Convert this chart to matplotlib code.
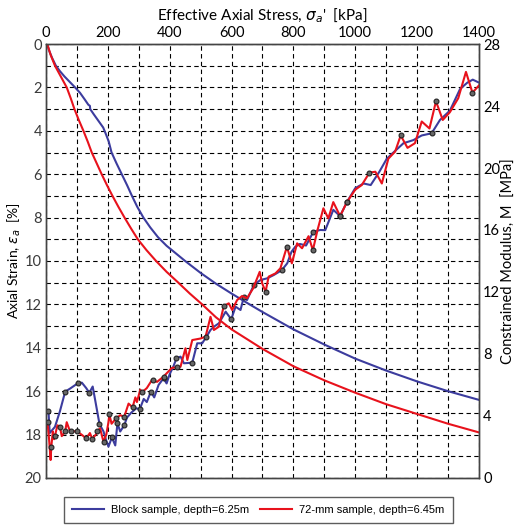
import numpy as np
import matplotlib.pyplot as plt
from matplotlib.ticker import MultipleLocator

# Strain vs effective stress (left axis, inverted)
blue_stress = [4, 10, 20, 32, 45, 60, 77, 94, 110, 125, 137, 142, 143, 155, 170, 185, 195, 203,
               212, 228, 245, 262, 278, 295, 315, 337, 362, 390, 420, 450, 500, 550, 600, 650,
               700, 750, 800, 850, 900, 1000, 1100, 1200, 1300, 1400]
blue_strain = [0, 0.3, 0.65, 1.0, 1.25, 1.5, 1.75, 2.0, 2.25, 2.55, 2.8, 2.85, 3.0, 3.25, 3.55,
               3.85, 4.2, 4.5, 5.0, 5.5, 6.0, 6.5, 7.0, 7.5, 8.0, 8.45, 8.9, 9.3, 9.65, 10.0, 10.55,
               11.05, 11.5, 11.93, 12.35, 12.75, 13.15, 13.5, 13.85, 14.5, 15.05, 15.55, 16.0, 16.4]
red_stress = [4, 15, 29, 48, 67, 80, 92, 106, 121, 135, 148, 164, 180, 197, 215, 234, 254, 275,
              297, 325, 356, 390, 428, 465, 505, 550, 600, 650, 700, 750, 800, 900, 1000, 1100,
              1200, 1300, 1400]
red_strain = [0, 0.5, 1.0, 1.5, 2.0, 2.5, 3.0, 3.5, 4.0, 4.5, 5.0, 5.5, 6.0, 6.5, 7.0, 7.5, 8.0,
              8.5, 9.0, 9.5, 10.0, 10.5, 11.0, 11.5, 12.0, 12.6, 13.15, 13.6, 14.05, 14.45, 14.85,
              15.5, 16.07, 16.6, 17.05, 17.5, 17.9]

# Constrained modulus vs effective stress (right axis)
blue_m_stress = [8, 12, 29, 45, 62, 78, 102, 116, 130, 140, 151, 159, 173, 186, 195, 202, 213,
                 224, 231, 240, 253, 262, 275, 292, 303, 316, 326, 339, 350, 364, 380, 390,
                 400, 412, 422, 435, 446, 473, 489, 505, 519, 532, 543, 559, 581, 599, 613,
                 629, 640, 650, 672, 693, 715, 736, 762, 780, 794, 806, 821, 841, 865, 887,
                 903, 929, 951, 973, 1000, 1027, 1050, 1078, 1102, 1132, 1156, 1188, 1215,
                 1247, 1274, 1306, 1339, 1362, 1380, 1401]
blue_m = [4.34, 2.9, 3.3, 4.3, 5.57, 5.77, 6.1, 6.15, 5.8, 5.5, 5.9, 5.03, 3.48, 3.0, 2.4, 2.02,
          2.62, 2.1, 3.53, 3.0, 3.4, 3.9, 4.2, 4.5, 4.43, 5.1, 4.9, 5.57, 5.2, 6.0, 6.43, 6.1,
          6.7, 7.2, 7.72, 7.83, 7.4, 7.44, 8.69, 8.69, 9.12, 9.55, 9.76, 9.98, 10.73, 10.24,
          11.05, 10.84, 11.7, 11.48, 12.45, 12.77, 12.88, 13.09, 13.4, 13.85, 14.6, 14.92,
          15.1, 15.0, 15.9, 16.0, 15.99, 17.3, 16.9, 17.8, 18.7, 19.0, 18.9, 19.76, 20.6,
          21.16, 21.6, 21.8, 22.1, 22.24, 23.1, 23.7, 25.1, 25.5, 25.7, 25.5]
blue_marked = [0, 4, 6, 9, 12, 16, 18, 20, 24, 27, 30, 34, 37, 45, 48, 50, 54, 60, 64, 65, 75]

red_m_stress = [5, 10, 15, 17, 22, 26, 29, 37, 45, 51, 62, 67, 76, 81, 99, 115, 130, 142, 150,
                165, 166, 175, 186, 195, 202, 205, 212, 227, 240, 253, 267, 280, 289, 294, 305,
                310, 326, 342, 345, 359, 380, 402, 407, 425, 435, 451, 457, 473, 500, 516, 532,
                543, 559, 575, 591, 602, 618, 634, 650, 670, 691, 699, 710, 720, 742, 758, 779,
                795, 812, 828, 849, 863, 878, 897, 913, 929, 951, 973, 1000, 1021, 1046, 1065,
                1086, 1107, 1129, 1147, 1169, 1193, 1215, 1240, 1261, 1283, 1306, 1333, 1358,
                1379, 1401]
red_m = [3.59, 2.5, 1.16, 1.97, 3.0, 2.5, 2.72, 3.4, 3.31, 2.7, 3.0, 3.6, 3.1, 3.0, 3.02, 2.8,
         2.56, 2.9, 2.52, 2.9, 3.03, 3.2, 2.33, 2.8, 3.6, 4.1, 3.5, 3.85, 4.05, 3.95, 4.8, 4.56,
         5.2, 4.9, 5.7, 5.52, 5.8, 6.3, 6.32, 6.2, 6.54, 7.0, 7.1, 7.15, 7.18, 8.37, 7.61, 8.9,
         9.0, 9.12, 10.4, 9.55, 9.76, 11.1, 11.27, 10.84, 11.48, 11.74, 11.6, 12.24, 13.3,
         12.56, 12.02, 12.99, 13.2, 13.53, 14.92, 13.85, 15.14, 14.82, 15.6, 14.7, 16.0, 17.4,
         16.75, 17.8, 16.9, 17.8, 18.6, 18.9, 19.7, 19.76, 19.0, 20.6, 21.06, 22.1, 21.3, 21.6,
         23.0, 22.55, 24.3, 23.1, 23.6, 24.5, 26.2, 24.86, 25.35]
red_marked = [0, 3, 6, 8, 10, 13, 14, 16, 18, 20, 22, 25, 27, 29, 31, 35, 38, 40, 43, 49, 53,
              62, 66, 71, 76, 77, 80, 85, 90, 95]

blue = '#3c3c9e'
red = '#e8121c'

plt.rcParams['font.family'] = ['Lato', 'DejaVu Sans']

fig = plt.figure(figsize=(5.15, 5.27), dpi=100)
ax = fig.add_axes([0.0893, 0.093, 0.8407, 0.8235])
ax2 = ax.twinx()

ax.plot(blue_stress, blue_strain, color=blue, lw=1.5, label='Block sample, depth=6.25m')
ax.plot(red_stress, red_strain, color=red, lw=1.5, label='72-mm sample, depth=6.45m')

ax2.plot(blue_m_stress, blue_m, color=blue, lw=1.5, marker='o', markevery=blue_marked,
         ms=3.5, mfc='#666666', mec='#222222', mew=0.8)
ax2.plot(red_m_stress, red_m, color=red, lw=1.5, marker='o', markevery=red_marked,
         ms=3.5, mfc='#666666', mec='#222222', mew=0.8)

ax.set_xlim(0, 1400)
ax.set_ylim(20, 0)
ax2.set_ylim(0, 28)

ax.xaxis.set_major_locator(MultipleLocator(200))
ax.xaxis.set_minor_locator(MultipleLocator(100))
ax.yaxis.set_major_locator(MultipleLocator(2))
ax.yaxis.set_minor_locator(MultipleLocator(1))
ax2.yaxis.set_major_locator(MultipleLocator(4))

ax.xaxis.tick_top()
ax.xaxis.set_label_position('top')
ax.tick_params(which='both', length=0, labelsize=10.5, pad=3)
ax.tick_params(axis='y', labelcolor='#3a3a3a')
ax2.tick_params(length=0, labelsize=10.5, pad=3)

ax.grid(True, which='both', color='black', linestyle=(0, (4, 3)), linewidth=0.8)
ax.set_axisbelow(True)

ax.set_xlabel("Effective Axial Stress, $\\sigma_a$'  [kPa]", fontsize=11, labelpad=4)
ax.set_ylabel('Axial Strain, $\\varepsilon_a$  [%]', fontsize=10, labelpad=1)
ax2.set_ylabel('Constrained Modulus, M  [MPa]', fontsize=10.5, labelpad=1)

for a in (ax, ax2):
    for s in a.spines.values():
        s.set_color('#444444')
        s.set_linewidth(1.0)

leg = ax.legend(loc='upper center', bbox_to_anchor=(0.49, -0.03), ncol=2,
                frameon=True, fancybox=False, edgecolor='#333333', handlelength=2.9,
                handletextpad=0.6, columnspacing=1.0, borderpad=0.75,
                prop={'family': 'Liberation Sans', 'size': 8})
leg.get_frame().set_linewidth(1.0)

fig.savefig('out.png', dpi=100)
